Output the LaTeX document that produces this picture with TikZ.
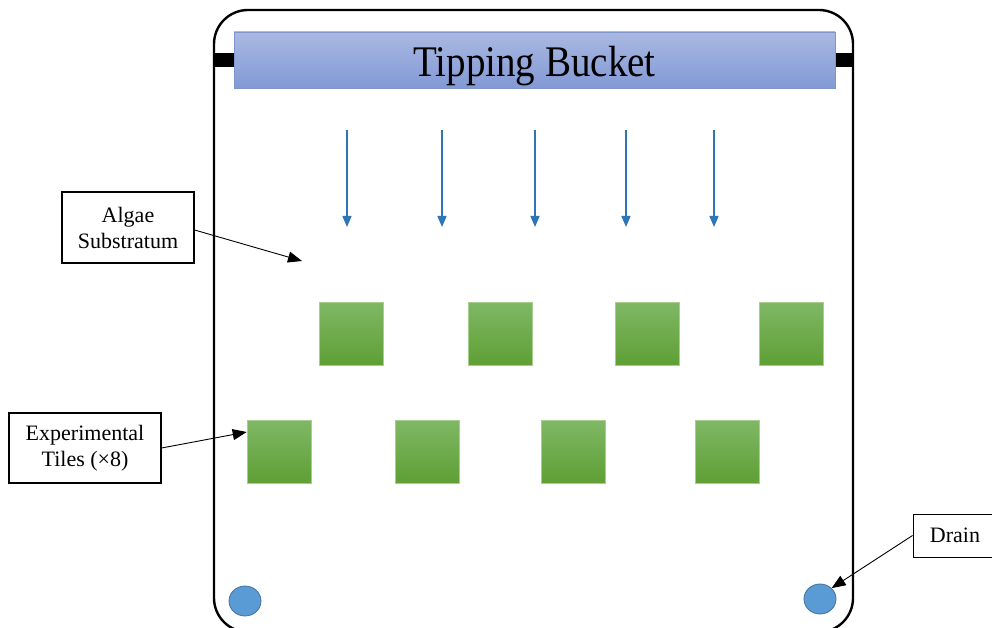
\documentclass[tikz,border=0pt]{standalone}
\usepackage{fontspec}
\setmainfont{Liberation Serif}
\usetikzlibrary{arrows.meta,shapes.geometric}
\definecolor{titletop}{HTML}{AAB9E2}
\definecolor{titlebot}{HTML}{8299D5}
\definecolor{titleborder}{HTML}{7E96CC}
\definecolor{tiletop}{HTML}{7FB865}
\definecolor{tilebot}{HTML}{5E9F35}
\definecolor{tileborder}{HTML}{A6CF8E}
\definecolor{rainblue}{HTML}{2E75B6}
\definecolor{drainfill}{HTML}{5B9BD5}
\definecolor{drainborder}{HTML}{41719C}
\tikzset{
  tile/.style={minimum width=64pt, minimum height=63pt, inner sep=0pt, draw=tileborder, line width=0.6pt, top color=tiletop, bottom color=tilebot},
  labelbox/.style={draw=black, line width=1.2pt, fill=white, align=center, font=\fontsize{22}{26}\selectfont, inner sep=0pt},
  pointer/.style={-{Triangle[length=14pt,width=11pt]}, line width=0.9pt, black},
  rain/.style={-{Triangle[length=11pt,width=9pt]}, line width=1.4pt, rainblue},
  drain/.style={ellipse, minimum width=32pt, minimum height=30pt, inner sep=0pt, draw=drainborder, line width=0.8pt, fill=drainfill},
  tab/.style={fill=black, inner sep=0pt}
}
\begin{document}
\begin{tikzpicture}[x=1pt,y=-1pt]
\useasboundingbox (0,0) rectangle (992,628);
% container
\draw[line width=2.4pt, rounded corners=34pt] (214,10) rectangle (853,632);
% tabs
\node[tab, minimum width=20pt, minimum height=14pt] (tabL) at (224,60) {};
\node[tab, minimum width=18pt, minimum height=14pt] (tabR) at (844,60) {};
% title
\node[draw=titleborder, line width=0.8pt, top color=titletop, bottom color=titlebot, minimum width=601pt, minimum height=56pt, inner sep=0pt] (title) at (534.5,60) {};
\node[anchor=base, inner sep=0pt, font=\fontsize{39}{42}\selectfont] (titletext) at (534.5,76.5) {\scalebox{1}[1.12]{Tipping Bucket}};
% rain arrows
\foreach \x/\n in {347/r1,442/r2,535/r3,626/r4,714/r5}{
  \coordinate (\n s) at (\x,130);
  \coordinate (\n e) at (\x,227);
  \draw[rain] (\n s) -- (\n e);
}
% tiles
\node[tile] (t1) at (351,333.5) {};
\node[tile] (t2) at (500.5,333.5) {};
\node[tile] (t3) at (647,333.5) {};
\node[tile] (t4) at (791,333.5) {};
\node[tile] (t5) at (279,451.5) {};
\node[tile] (t6) at (427,451.5) {};
\node[tile] (t7) at (573,451.5) {};
\node[tile] (t8) at (727,451.5) {};
% drains
\node[drain] (d1) at (245,601) {};
\node[drain] (d2) at (820,599) {};
% label boxes
\node[labelbox, minimum width=132pt, minimum height=71pt] (algae) at (128,227.5) {Algae\\Substratum};
\node[labelbox, minimum width=152pt, minimum height=70pt] (exp) at (85,448) {Experimental\\Tiles (×8)};
\node[labelbox, line width=1pt, minimum width=84pt, minimum height=43pt] (drainlbl) at (955,535.5) {Drain};
\coordinate (algaetip) at (302,261);
% pointers
\draw[pointer] (algae.east |- 0,230) -- (algaetip);
\draw[pointer] (exp.east) -- (t5.west |- 0,432);
\draw[pointer] (drainlbl.west) -- (d2.north east);
\end{tikzpicture}
\end{document}
